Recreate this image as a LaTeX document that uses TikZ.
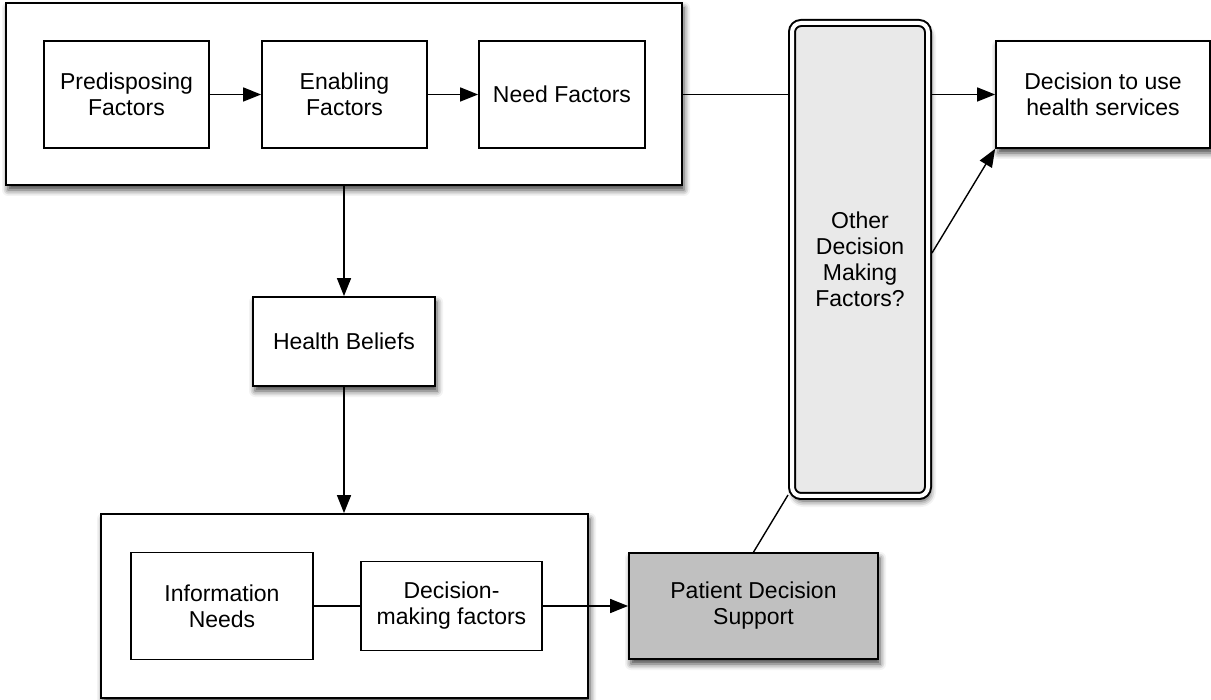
\documentclass[tikz,border=0pt]{standalone}
\usepackage{fontspec}
\setmainfont{Liberation Sans}
\usetikzlibrary{arrows.meta,shadows.blur}
\definecolor{lightfill}{HTML}{E9E9E9}
\definecolor{pdsfill}{HTML}{C0C0C0}
\begin{document}
\begin{tikzpicture}[x=1pt,y=-1pt,
  box/.style={draw, line width=1.7pt, fill=white, inner sep=0pt, align=center,
    font=\fontsize{23}{26}\selectfont},
  shad/.style={blur shadow={shadow xshift=2pt, shadow yshift=-5pt, shadow blur radius=6pt, shadow opacity=75}},
  conn/.style={line width=1.4pt},
  arr/.style={conn, -{Triangle[length=18pt,width=14pt]}}]
\useasboundingbox (0,0) rectangle (1211,700);

% top group
\node[box, shad, minimum width=676pt, minimum height=182pt] (top) at (344,94) {};
\node[box, minimum width=165pt, minimum height=107pt] (pre) at (126.5,94.5) {Predisposing\\Factors};
\node[box, minimum width=165pt, minimum height=107pt] (ena) at (344.5,94.5) {Enabling\\Factors};
\node[box, minimum width=166pt, minimum height=107pt] (need) at (562,94.5) {Need Factors};

% other decision making factors
\node[box, shad, fill=lightfill, line width=2pt, double=white, double distance=4pt,
  rounded corners=9pt, outer sep=4pt, minimum width=136pt, minimum height=473pt] (other) at (860,259.5)
  {Other\\Decision\\Making\\Factors?};

\node[box, shad, minimum width=214pt, minimum height=107pt] (dec) at (1103,94.5) {Decision to use\\health services};

\node[box, shad, minimum width=182pt, minimum height=89pt] (hb) at (344,341.5) {Health Beliefs};

% bottom group
\node[box, shad, minimum width=487pt, minimum height=184pt] (bot) at (344.5,606) {};
\node[box, minimum width=182pt, minimum height=107pt] (info) at (222,606) {Information\\Needs};
\node[box, minimum width=181pt, minimum height=89pt] (dmf) at (451.5,606) {Decision-\\making factors};

\node[box, shad, fill=pdsfill, minimum width=249pt, minimum height=106pt] (pds) at (753.5,606) {Patient Decision\\Support};

% connectors
\draw[arr] (pre.east) -- (ena.west);
\draw[arr] (ena.east) -- (need.west);
\draw[conn] (top.east |- need.east) -- (other.west |- need.east);
\draw[arr] (other.east |- dec.west) -- (dec.west);
\draw[arr] ([yshift=6.5pt]other.east) -- (dec.south west);
\draw[arr] (top.south) -- (hb.north);
\draw[arr] (hb.south) -- (hb.south |- bot.north);
\draw[conn] (info.east) -- (dmf.west);
\draw[arr] (dmf.east) -- (pds.west);
\draw[conn] (pds.north) -- ([yshift=5pt]other.south west);
\end{tikzpicture}
\end{document}
